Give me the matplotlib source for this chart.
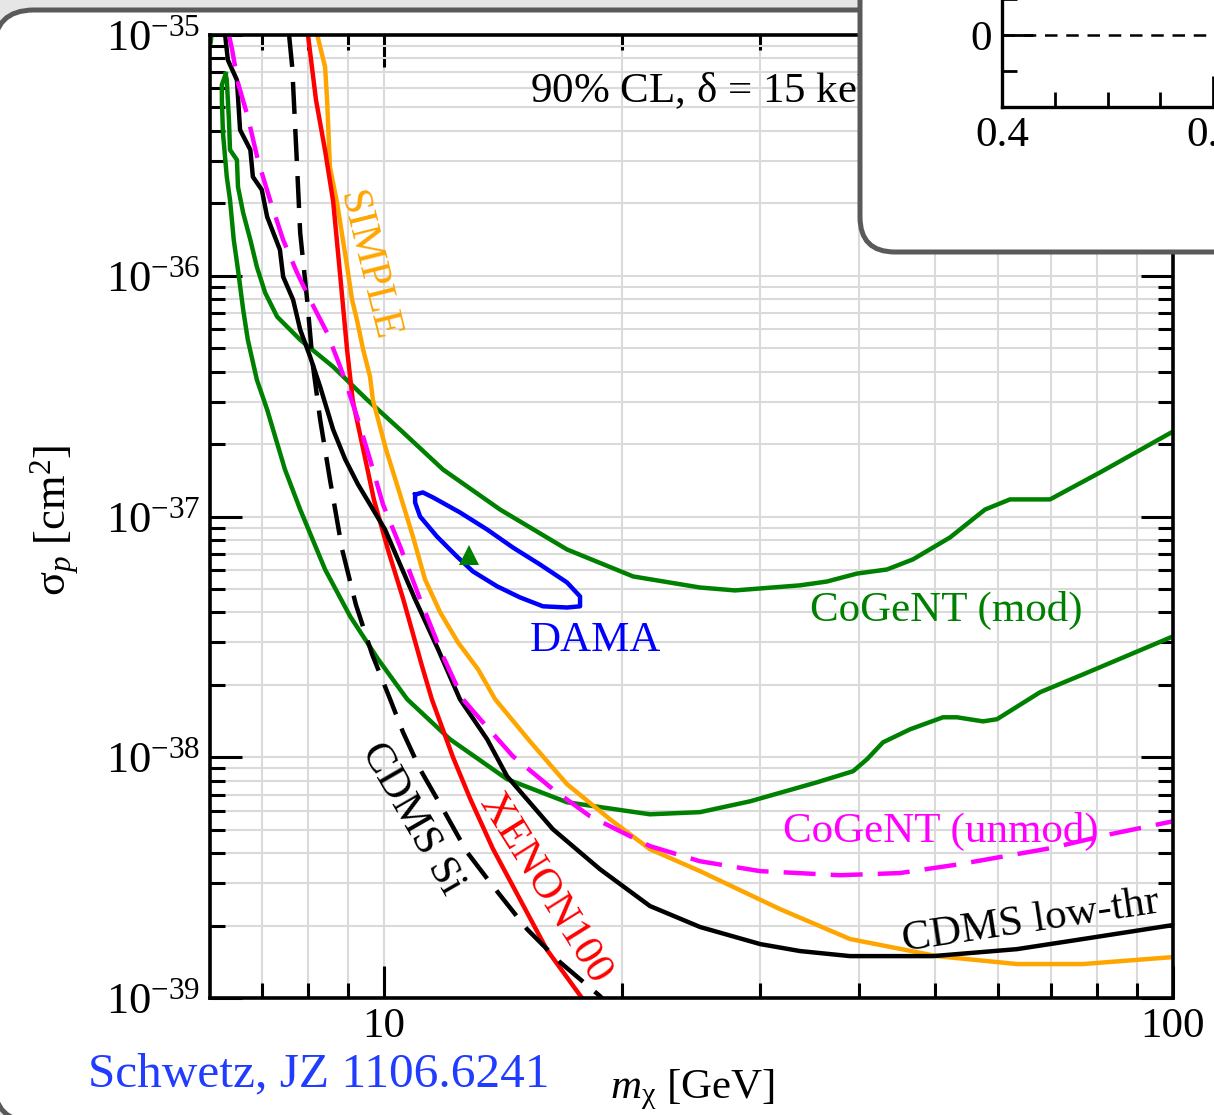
import numpy as np
import matplotlib
matplotlib.use("Agg")
import matplotlib.pyplot as plt
from matplotlib.patches import FancyBboxPatch
from matplotlib.transforms import IdentityTransform
from matplotlib.ticker import (LogLocator, FixedLocator, FixedFormatter, NullFormatter,
                               FuncFormatter, MultipleLocator)

# ---------------------------------------------------------------------------
# Exclusion limits / allowed regions (mass in GeV, log10 of sigma_p in cm^2)
# ---------------------------------------------------------------------------
xenon_mass = [8.01, 8.20, 8.42, 8.62, 8.80, 8.98, 9.13, 9.41, 9.71, 10.12, 10.57,
              11.17, 11.50, 12.23, 12.85, 13.74, 14.87, 16.09, 17.82, 18.57]
xenon_logsig = [-35.0, -35.27, -35.48, -35.69, -36.0, -36.31, -36.52, -36.72, -36.93,
                -37.14, -37.34, -37.62, -37.76, -38.0, -38.17, -38.38, -38.59, -38.80,
                -39.0, -39.09]

simple_mass = [8.23, 8.42, 8.47, 8.54, 8.72, 8.98, 9.11, 9.24, 9.41, 9.60, 9.68, 10.06,
               10.48, 10.88, 11.27, 11.78, 12.41, 13.16, 13.83, 15.31, 17.06, 19.33,
               21.73, 25.15, 31.77, 38.96, 50.22, 63.43, 76.89, 100.0]
simple_logsig = [-35.0, -35.133, -35.27, -35.548, -35.697, -35.963, -36.10, -36.183,
                 -36.307, -36.419, -36.515, -36.722, -36.909, -37.083, -37.261, -37.398,
                 -37.523, -37.635, -37.759, -37.934, -38.112, -38.257, -38.382, -38.473,
                 -38.631, -38.755, -38.826, -38.859, -38.859, -38.830]

cdms_si_mass = [7.58, 7.65, 7.76, 7.83, 7.99, 8.13, 8.30, 8.54, 8.85, 9.21, 9.66, 10.18,
                10.57, 11.11, 11.88, 12.74, 13.74, 15.18, 16.71, 18.78, 19.45]
cdms_si_logsig = [-35.0, -35.133, -35.548, -35.822, -36.10, -36.378, -36.598, -36.846,
                  -37.137, -37.365, -37.573, -37.759, -37.896, -38.050, -38.216, -38.394,
                  -38.535, -38.714, -38.851, -38.992, -39.046]

cogent_unmod_mass = [6.36, 6.42, 6.53, 6.72, 6.92, 7.17, 7.45, 7.76, 8.06, 8.47, 8.80,
                     8.98, 9.27, 9.60, 9.97, 10.48, 11.11, 11.88, 12.59, 13.24, 14.57,
                     16.37, 18.24, 21.73, 25.15, 29.97, 37.84, 45.08, 53.70, 69.85,
                     83.21, 100.0]
cogent_unmod_logsig = [-35.0, -35.062, -35.199, -35.340, -35.519, -35.685, -35.851,
                       -35.988, -36.10, -36.237, -36.378, -36.461, -36.598, -36.763,
                       -36.950, -37.124, -37.344, -37.581, -37.759, -37.842, -37.996,
                       -38.133, -38.245, -38.369, -38.432, -38.473, -38.490, -38.481,
                       -38.444, -38.378, -38.320, -38.266]

cdms_lt_mass = [6.29, 6.34, 6.51, 6.57, 6.77, 6.82, 7.00, 7.11, 7.38, 7.45, 7.67, 7.83,
                8.06, 8.30, 8.62, 8.93, 9.27, 9.60, 10.03, 10.48, 10.95, 11.71, 12.48,
                13.51, 14.32, 16.37, 18.78, 21.73, 25.15, 29.97, 33.67, 38.96, 49.63,
                63.43, 76.89, 100.0]
cdms_lt_logsig = [-35.0, -35.104, -35.187, -35.394, -35.477, -35.589, -35.643, -35.755,
                  -35.892, -36.004, -36.10, -36.224, -36.336, -36.461, -36.639, -36.763,
                  -36.867, -36.950, -37.054, -37.199, -37.344, -37.552, -37.759, -37.925,
                  -38.079, -38.299, -38.465, -38.618, -38.705, -38.776, -38.805, -38.826,
                  -38.826, -38.797, -38.755, -38.697]

# CoGeNT modulation region: upper and lower boundaries meeting at the low-mass tip
cogent_mod_upper_mass = [6.30, 6.32, 6.36, 6.38, 6.51, 6.53, 6.63, 6.77, 6.90, 7.07,
                         7.32, 7.83, 8.62, 9.52, 10.48, 11.88, 14.03, 17.06, 20.69,
                         25.15, 27.86, 33.67, 36.43, 39.77, 43.41, 46.82, 52.17, 57.78,
                         62.14, 69.85, 80.83, 100.0]
cogent_mod_upper_logsig = [-35.162, -35.187, -35.353, -35.477, -35.519, -35.631,
                           -35.739, -35.851, -35.963, -36.071, -36.170, -36.266,
                           -36.378, -36.515, -36.639, -36.805, -36.971, -37.137,
                           -37.249, -37.295, -37.307, -37.286, -37.270, -37.237,
                           -37.220, -37.178, -37.087, -36.971, -36.929, -36.929,
                           -36.817, -36.647]

cogent_mod_lower_mass = [6.30, 6.23, 6.23, 6.25, 6.32, 6.38, 6.45, 6.53, 6.63, 6.72,
                         6.90, 7.11, 7.49, 7.83, 8.42, 9.06, 9.83, 10.70, 12.12, 14.32,
                         17.06, 21.73, 25.15, 29.11, 35.39, 39.31, 40.95, 42.90, 46.42,
                         51.11, 53.24, 57.44, 59.83, 67.84, 76.89, 100.0]
cogent_mod_lower_logsig = [-35.162, -35.207, -35.270, -35.407, -35.589, -35.685,
                           -35.851, -35.975, -36.141, -36.266, -36.432, -36.556,
                           -36.805, -36.971, -37.220, -37.415, -37.593, -37.759,
                           -37.925, -38.091, -38.187, -38.237, -38.228, -38.183,
                           -38.104, -38.058, -38.008, -37.938, -37.884, -37.834,
                           -37.834, -37.851, -37.842, -37.730, -37.656, -37.498]

# short piece of a further CoGeNT contour entering at the top-left corner
cogent_corner_mass = [6.03, 6.07]
cogent_corner_logsig = [-35.03, -34.95]

dama_mass = [10.95, 11.20, 11.54, 12.48, 13.51, 14.57, 15.76, 17.06, 17.72, 17.72,
             17.06, 15.90, 14.87, 13.91, 12.96, 12.37, 11.67, 11.11, 10.95, 10.95]
dama_logsig = [-36.909, -36.900, -36.921, -36.983, -37.054, -37.129, -37.199, -37.274,
               -37.332, -37.373, -37.378, -37.373, -37.336, -37.290, -37.228, -37.166,
               -37.083, -37.000, -36.942, -36.909]

best_fit_mass = 12.82
best_fit_logsig = -37.158

x_tick_values = [10, 100]
x_tick_labels = ["10", "100"]
y_tick_exponents = [-39, -38, -37, -36, -35]

# ---------------------------------------------------------------------------
plt.rcParams['font.family'] = ['Liberation Serif', 'DejaVu Serif']
plt.rcParams['mathtext.fontset'] = 'custom'
plt.rcParams['mathtext.rm'] = 'Liberation Serif'
plt.rcParams['mathtext.it'] = 'Liberation Serif:italic'
plt.rcParams['mathtext.bf'] = 'Liberation Serif:bold'

W, H = 1214, 1115
fig = plt.figure(figsize=(W / 100, H / 100), dpi=100, facecolor='#e6e6e6')

# slide frame
frame = FancyBboxPatch((-6, -7), 1400, 1112, boxstyle="round,pad=0,rounding_size=40",
                       transform=IdentityTransform(), facecolor='white',
                       edgecolor='#5a5a5a', lw=3.6, zorder=-5)
fig.patches.append(frame)

ax = fig.add_axes([210 / W, 1 - 998 / H, (1173 - 210) / W, (998 - 35) / H], zorder=0)
ax.set_xscale('log')
ax.set_yscale('log')
ax.set_xlim(6.018, 100)
ax.set_ylim(1e-39, 1e-35)

GREEN, RED, ORANGE, MAGENTA, BLUE = '#008000', '#ff0000', '#ffa500', '#ff00ff', '#0000ff'
LW = 3.2
DASH = (0, (7.2, 3.4))


def sig(v):
    return 10.0 ** np.asarray(v)


ax.plot(cogent_mod_upper_mass, sig(cogent_mod_upper_logsig), color=GREEN, lw=LW)
ax.plot(cogent_mod_lower_mass, sig(cogent_mod_lower_logsig), color=GREEN, lw=LW)
ax.plot(cogent_corner_mass, sig(cogent_corner_logsig), color=GREEN, lw=LW)
ax.plot(simple_mass, sig(simple_logsig), color=ORANGE, lw=LW)
ax.plot(xenon_mass, sig(xenon_logsig), color=RED, lw=LW)
ax.plot(cdms_lt_mass, sig(cdms_lt_logsig), color='black', lw=LW)
ax.plot(cdms_si_mass, sig(cdms_si_logsig), color='black', lw=LW, ls=DASH)
ax.plot(cogent_unmod_mass, sig(cogent_unmod_logsig), color=MAGENTA, lw=LW, ls=DASH)
ax.plot(dama_mass, sig(dama_logsig), color=BLUE, lw=LW)
ax.plot([best_fit_mass], [sig(best_fit_logsig)], marker='^', color=GREEN, ms=14, mew=0)

# labels on the curves
FS = 31
ax.text(15.31, sig(-35.278), r'90% CL, $\mathrm{\delta}$ = 15 keV', fontsize=FS,
        ha='left', va='baseline')
ax.text(9.54, sig(-35.959), 'SIMPLE', color=ORANGE, fontsize=FS, rotation=-76,
        ha='center', va='center', rotation_mode='anchor')
ax.text(18.51, sig(-37.56), 'DAMA', color=BLUE, fontsize=FS, ha='center', va='baseline')
ax.text(34.67, sig(-37.432), 'CoGeNT (mod)', color=GREEN, fontsize=FS, ha='left',
        va='baseline')
ax.text(32.05, sig(-38.353), 'CoGeNT (unmod)', color=MAGENTA, fontsize=FS, ha='left',
        va='baseline')
ax.text(66.27, sig(-38.726), 'CDMS low-thr', color='black', fontsize=FS, rotation=8.6,
        ha='center', va='baseline', rotation_mode='anchor')
ax.text(16.0, sig(-38.548), 'XENON100', color=RED, fontsize=FS, rotation=-58,
        ha='center', va='center', rotation_mode='anchor')
ax.text(10.85, sig(-38.257), 'CDMS Si', color='black', fontsize=FS, rotation=-60,
        ha='center', va='center', rotation_mode='anchor')

# axes styling
ax.grid(True, which='both', color='#dadada', lw=1.5)
ax.set_axisbelow(True)
ax.xaxis.set_major_locator(FixedLocator(x_tick_values))
ax.xaxis.set_major_formatter(FixedFormatter(x_tick_labels))
ax.xaxis.set_minor_locator(LogLocator(base=10, subs=np.arange(2, 10), numticks=20))
ax.xaxis.set_minor_formatter(NullFormatter())
ax.yaxis.set_major_locator(FixedLocator([10.0 ** e for e in y_tick_exponents]))
ax.yaxis.set_major_formatter(FixedFormatter([r'$10^{%d}$' % e for e in y_tick_exponents]))
ax.yaxis.set_minor_locator(LogLocator(base=10, subs=np.arange(2, 10), numticks=40))
ax.yaxis.set_minor_formatter(NullFormatter())
ax.tick_params(which='major', direction='in', length=23, width=2.2, top=True, right=True,
               labelsize=FS, pad=7)
ax.tick_params(axis='y', which='major', labelsize=32)
ax.tick_params(which='minor', direction='in', length=11, width=2.2, top=True, right=True)
for s in ax.spines.values():
    s.set_linewidth(2.6)

fig.text(55 / W, 1 - 520 / H, r'$\mathrm{\sigma}_p\ [\mathrm{cm}^2]$', rotation=90,
         ha='center', va='center', fontsize=32)
fig.text(692 / W, 1 - 1098 / H, r'$m_{\mathrm{\chi}}$ [GeV]', ha='center', va='baseline',
         fontsize=FS)
fig.text(88 / W, 1 - 1086 / H, 'Schwetz, JZ 1106.6241', color='#1f3cff', ha='left',
         va='baseline', fontsize=35.5)

# inset panel in the upper right
box = FancyBboxPatch((860, H - 252), 600, 400, boxstyle="round,pad=0,rounding_size=35",
                     transform=IdentityTransform(), facecolor='white',
                     edgecolor='#5a5a5a', lw=3.6, zorder=5)
fig.patches.append(box)

axin = fig.add_axes([1002 / W, 1 - 107 / H, 422 / W, 180 / H], zorder=6)
axin.patch.set_alpha(0)
axin.set_xlim(0.4, 0.6)
axin.set_ylim(-1, 1.5)
axin.spines[['top', 'right']].set_visible(False)
for s in axin.spines.values():
    s.set_linewidth(2.4)
axin.xaxis.set_major_locator(FixedLocator([0.4, 0.5]))
axin.xaxis.set_minor_locator(MultipleLocator(0.025))
axin.xaxis.set_major_formatter(FuncFormatter(lambda v, p: f'{v:g}'))
axin.yaxis.set_major_locator(FixedLocator([0]))
axin.yaxis.set_minor_locator(FixedLocator([-0.5, 0.5]))
axin.yaxis.set_major_formatter(FuncFormatter(lambda v, p: f'{v:g}'))
axin.tick_params(which='major', direction='in', length=22, width=2.0, labelsize=FS, pad=7)
axin.tick_params(which='minor', direction='in', length=11, width=2.0)
axin.axhline(0, color='black', lw=1.8, ls=(0, (5, 3.5)))

fig.savefig('out.png', dpi=100, facecolor=fig.get_facecolor())
